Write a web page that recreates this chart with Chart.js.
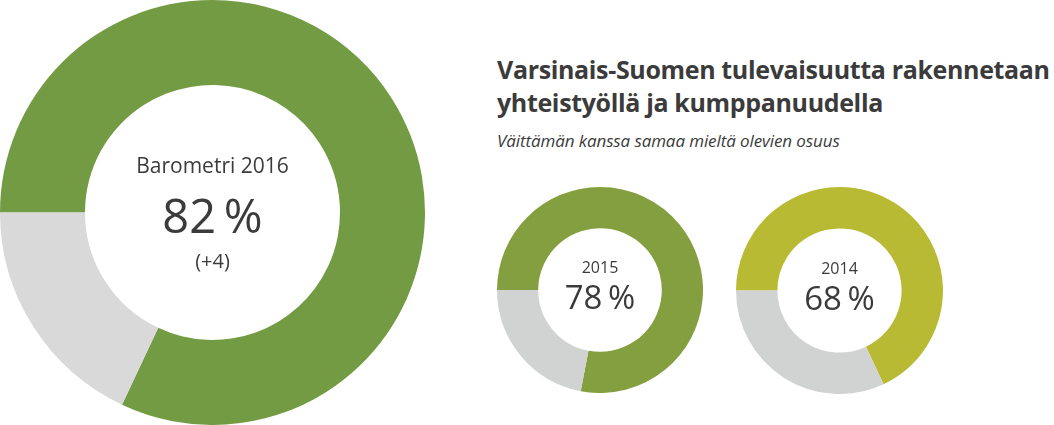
<!DOCTYPE html>
<html lang="fi">
<head>
<meta charset="utf-8">
<script src="https://cdn.jsdelivr.net/npm/chart.js@4"></script>
<style>
  html, body { margin: 0; padding: 0; background: #fff; }
  body { width: 1054px; height: 425px; position: relative; overflow: hidden; font-family: 'Open Sans', sans-serif; color: #3b3b3b; }
  canvas { position: absolute; }
  #big { left: 0; top: 0; }
  #c2015 { left: 497px; top: 187px; }
  #c2014 { left: 736px; top: 187px; }
  .title { position: absolute; left: 497px; top: 53px; font-weight: 700; font-size: 25px; line-height: 33px; white-space: nowrap; letter-spacing: -0.35px; }
  .subtitle { position: absolute; left: 497px; top: 129px; font-style: italic; font-size: 17px; white-space: nowrap; letter-spacing: -0.1px; }
</style>
</head>
<body>
<canvas id="big" width="425" height="425"></canvas>
<canvas id="c2015" width="206" height="206"></canvas>
<canvas id="c2014" width="207" height="207"></canvas>
<div class="title">Varsinais-Suomen tulevaisuutta rakennetaan<br>yhteistyöllä ja kumppanuudella</div>
<div class="subtitle">Väittämän kanssa samaa mieltä olevien osuus</div>
<script>
const years = ['2016', '2015', '2014'];
const agreeShare = [82, 78, 68];
const restShare = [18, 22, 32];
const headings = ['Barometri 2016', '2015', '2014'];
const changes = ['(+4)', '', ''];
const segmentLabels = ['Samaa mieltä', 'Muut'];

const greens = ['#729b43', '#849f3f', '#b8ba34'];
const greys = ['#d9d9d9', '#d1d3d2', '#d1d3d2'];

// keskiteksti donitsin sisään
const centerText = {
  id: 'centerText',
  afterDraw(chart, args, opts) {
    const c = chart.ctx;
    const meta = chart.getDatasetMeta(0).data[0];
    const x = meta.x, y = meta.y;
    c.save();
    c.fillStyle = '#3b3b3b';
    c.textAlign = 'center';
    c.textBaseline = 'alphabetic';
    c.font = opts.headFont;
    c.fillText(opts.head, x, y + opts.headY);
    c.font = opts.valueFont;
    c.fillText(opts.value, x, y + opts.valueY);
    if (opts.change) {
      c.font = opts.changeFont;
      c.fillText(opts.change, x, y + opts.changeY);
    }
    c.restore();
  }
};

function makeDonut(id, i, text) {
  return new Chart(document.getElementById(id), {
    type: 'doughnut',
    data: {
      labels: segmentLabels,
      datasets: [{
        data: [agreeShare[i], restShare[i]],
        backgroundColor: [greens[i], greys[i]],
        borderWidth: 0
      }]
    },
    options: {
      responsive: false,
      animation: false,
      cutout: '60%',
      rotation: -90,
      layout: { padding: 0 },
      plugins: {
        legend: { display: false },
        tooltip: { enabled: false },
        centerText: Object.assign({
          head: headings[i],
          value: agreeShare[i] + '\u2009%',
          change: changes[i]
        }, text)
      }
    },
    plugins: [centerText]
  });
}

makeDonut('big', 0, {
  headFont: '21px "Open Sans"', headY: -39.5,
  valueFont: '47px "Open Sans"', valueY: 20.5,
  changeFont: '20px "Open Sans"', changeY: 55
});
makeDonut('c2015', 1, {
  headFont: '16px "Open Sans"', headY: -17,
  valueFont: '33px "Open Sans"', valueY: 19
});
makeDonut('c2014', 2, {
  headFont: '16px "Open Sans"', headY: -17,
  valueFont: '33px "Open Sans"', valueY: 19
});
</script>
</body>
</html>
